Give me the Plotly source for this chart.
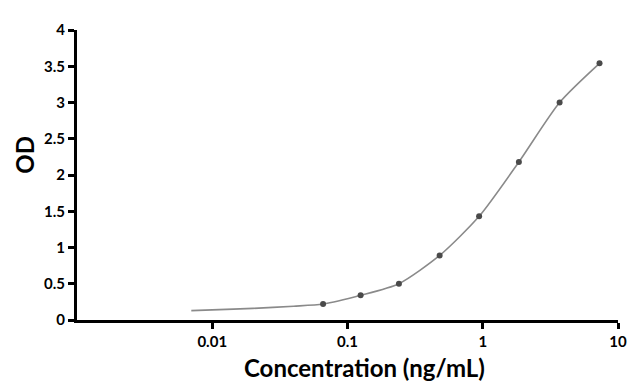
import plotly.graph_objects as go

# Standard points
conc = [0.066, 0.125, 0.24, 0.48, 0.94, 1.85, 3.7, 7.3]
od = [0.22, 0.34, 0.50, 0.89, 1.43, 2.18, 3.0, 3.54]

# Fitted curve
curve_x = [0.007, 0.01, 0.02, 0.04, 0.066, 0.125, 0.24, 0.48, 0.94, 1.85, 3.7, 7.3]
curve_y = [0.13, 0.14, 0.16, 0.19, 0.22, 0.34, 0.50, 0.89, 1.43, 2.18, 3.0, 3.54]

x_ticks = [0.01, 0.1, 1, 10]
x_tick_text = ["0.01", "0.1", "1", "10"]
y_ticks = [0, 0.5, 1, 1.5, 2, 2.5, 3, 3.5, 4]
y_tick_text = ["0", "0.5", "1", "1.5", "2", "2.5", "3", "3.5", "4"]

font_family = "Lato, 'Open Sans', sans-serif"

fig = go.Figure()
fig.add_trace(go.Scatter(
    x=curve_x, y=curve_y, mode="lines",
    line=dict(color="#8a8a8a", width=1.6, shape="spline", smoothing=0.7),
    hoverinfo="skip", showlegend=False,
))
fig.add_trace(go.Scatter(
    x=conc, y=od, mode="markers",
    marker=dict(color="#4a4a4a", size=6),
    showlegend=False,
))

# page body has an 8px margin, so the figure is 8px smaller and offset
fig.update_layout(
    width=631, height=378,
    margin=dict(l=69, r=19, t=19, b=66),
    paper_bgcolor="white", plot_bgcolor="white",
    font=dict(family=font_family, color="black"),
    xaxis=dict(
        type="log", range=[-3, 1],
        tickvals=x_ticks, ticktext=x_tick_text,
        tickfont=dict(size=15, family=font_family, weight="bold"),
        showgrid=False, zeroline=False,
        showline=True, linecolor="black", linewidth=3,
        ticks="outside", ticklen=6, tickwidth=3, tickcolor="black",
    ),
    yaxis=dict(
        range=[0, 4],
        tickvals=y_ticks, ticktext=y_tick_text,
        tickfont=dict(size=15, family=font_family, weight="bold"),
        showgrid=False, zeroline=False,
        showline=True, linecolor="black", linewidth=3,
        ticks="outside", ticklen=6, tickwidth=3, tickcolor="black",
    ),
    annotations=[
        dict(text="<b>Concentration (ng/mL)</b>", xref="paper", yref="paper",
             x=0.532, y=-0.164, xanchor="center", yanchor="middle",
             showarrow=False, font=dict(size=24, family=font_family)),
        dict(text="<b>OD</b>", xref="paper", yref="paper",
             x=-0.096, y=0.57, xanchor="center", yanchor="middle",
             textangle=-90, showarrow=False, font=dict(size=24, family=font_family)),
    ],
)

fig.write_html("out.html")
